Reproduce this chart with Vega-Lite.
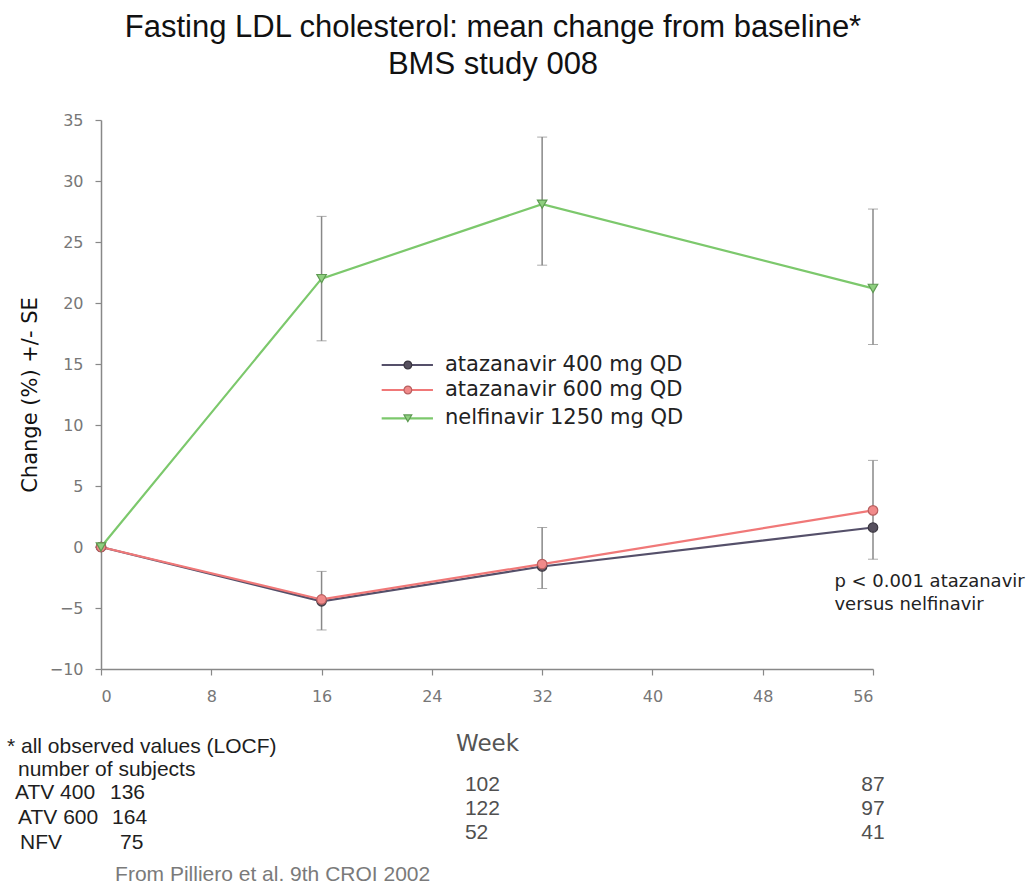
{
  "$schema": "https://vega.github.io/schema/vega-lite/v6.json",
  "autosize": {"type": "none"},
  "width": 772,
  "height": 549,
  "padding": {"left": 101, "top": 120, "right": 159, "bottom": 217},
  "background": "white",
  "config": {"view": {"stroke": null}, "font": "Liberation Sans"},
  "title": {
    "text": ["Fasting LDL cholesterol: mean change from baseline*", "BMS study 008"],
    "fontSize": 31, "fontWeight": "normal", "color": "#111", "lineHeight": 37,
    "baseline": "alphabetic", "frame": "group", "dx": 6,
    "offset": 7, "anchor": "middle", "font": "Liberation Sans"
  },
  "datasets": {
    "series": [
      {"series": "ATV400", "week": 0, "value": 0},
      {"series": "ATV400", "week": 16, "value": -4.45},
      {"series": "ATV400", "week": 32, "value": -1.6},
      {"series": "ATV400", "week": 56, "value": 1.6},
      {"series": "ATV600", "week": 0, "value": 0},
      {"series": "ATV600", "week": 16, "value": -4.3},
      {"series": "ATV600", "week": 32, "value": -1.4},
      {"series": "ATV600", "week": 56, "value": 3.0},
      {"series": "NFV", "week": 0, "value": 0},
      {"series": "NFV", "week": 16, "value": 22.0},
      {"series": "NFV", "week": 32, "value": 28.1},
      {"series": "NFV", "week": 56, "value": 21.2}
    ],
    "errors": [
      {"week": 16, "lo": 16.9, "hi": 27.1},
      {"week": 32, "lo": 23.1, "hi": 33.6},
      {"week": 56, "lo": 16.6, "hi": 27.7},
      {"week": 16, "lo": -6.8, "hi": -2.0},
      {"week": 32, "lo": -3.4, "hi": 1.6},
      {"week": 56, "lo": -1.0, "hi": 7.1}
    ],
    "legend": [
      {"series": "ATV400", "label": "atazanavir 400 mg QD", "week": 20.36, "week2": 24.08, "mid": 22.26, "text": 24.95, "value": 14.92},
      {"series": "ATV600", "label": "atazanavir 600 mg QD", "week": 20.36, "week2": 24.08, "mid": 22.26, "text": 24.95, "value": 12.87},
      {"series": "NFV", "label": "nelfinavir 1250 mg QD", "week": 20.36, "week2": 24.08, "mid": 22.26, "text": 24.95, "value": 10.55}
    ],
    "notes": [
      {"label": "* all observed values (LOCF)", "week": -6.82, "value": -16.4, "kind": "left"},
      {"label": "number of subjects", "week": -6.02, "value": -18.25, "kind": "left"},
      {"label": "ATV 400", "week": -6.24, "value": -20.2, "kind": "left"},
      {"label": "136", "week": 0.65, "value": -20.2, "kind": "left"},
      {"label": "ATV 600", "week": -6.02, "value": -22.2, "kind": "left"},
      {"label": "164", "week": 0.8, "value": -22.2, "kind": "left"},
      {"label": "NFV", "week": -5.87, "value": -24.3, "kind": "left"},
      {"label": "75", "week": 1.38, "value": -24.3, "kind": "left"},
      {"label": "From Pilliero et al. 9th CROI 2002", "week": 1.02, "value": -26.9, "kind": "source"},
      {"label": "102", "week": 26.4, "value": -19.5, "kind": "count"},
      {"label": "122", "week": 26.4, "value": -21.5, "kind": "count"},
      {"label": "52", "week": 26.4, "value": -23.45, "kind": "count"},
      {"label": "87", "week": 56.0, "value": -19.5, "kind": "countc"},
      {"label": "97", "week": 56.0, "value": -21.5, "kind": "countc"},
      {"label": "41", "week": 56.0, "value": -23.45, "kind": "countc"},
      {"label": "p < 0.001 atazanavir", "week": 53.2, "value": -2.87, "kind": "p"},
      {"label": "versus nelfinavir", "week": 53.2, "value": -4.75, "kind": "p"}
    ]
  },
  "encoding": {
    "x": {
      "field": "week", "type": "quantitative",
      "scale": {"domain": [0, 56], "nice": false, "zero": false},
      "axis": {
        "values": [0, 8, 16, 24, 32, 40, 48, 56], "grid": false,
        "title": "Week", "titleFontSize": 23, "titleFontWeight": "normal", "titleColor": "#555",
        "titlePadding": 28, "labelFontSize": 16, "labelColor": "#777", "labelPadding": 13,
        "tickSize": 6, "tickColor": "#888", "domainColor": "#888", "domainWidth": 1.5, "tickWidth": 1.2,
        "labelFont": "DejaVu Sans", "titleFont": "DejaVu Sans"
      }
    },
    "y": {
      "field": "value", "type": "quantitative",
      "scale": {"domain": [-10, 35], "nice": false, "zero": false},
      "axis": {
        "values": [-10, -5, 0, 5, 10, 15, 20, 25, 30, 35], "grid": false,
        "title": "Change (%) +/- SE", "titleFontSize": 21, "titleFontWeight": "normal", "titleColor": "#111",
        "titlePadding": 9, "labelFontSize": 16, "labelColor": "#777", "labelPadding": 12,
        "tickSize": 6, "tickColor": "#888", "domainColor": "#888", "domainWidth": 1.5, "tickWidth": 1.2,
        "labelFont": "DejaVu Sans", "titleFont": "DejaVu Sans"
      }
    }
  },
  "layer": [
    {
      "data": {"name": "errors"},
      "mark": {"type": "errorbar", "ticks": {"size": 10, "color": "#888", "strokeWidth": 1.5}, "rule": {"color": "#888", "strokeWidth": 1.5}},
      "encoding": {
        "y": {"field": "lo", "type": "quantitative"},
        "y2": {"field": "hi"}
      }
    },
    {
      "data": {"name": "series"},
      "mark": {"type": "line", "strokeWidth": 2.2},
      "encoding": {
        "detail": {"field": "series"},
        "color": {"field": "series", "type": "nominal", "legend": null,
          "scale": {"domain": ["ATV400", "ATV600", "NFV"], "range": ["#55506a", "#f07878", "#7cc86c"]}}
      }
    },
    {
      "data": {"name": "series"},
      "mark": {"type": "point", "filled": true, "size": 90, "strokeWidth": 1.2, "opacity": 1},
      "encoding": {
        "fill": {"field": "series", "type": "nominal", "legend": null,
          "scale": {"domain": ["ATV400", "ATV600", "NFV"], "range": ["#56505e", "#f08a8a", "#8fcf80"]}},
        "stroke": {"field": "series", "type": "nominal", "legend": null,
          "scale": {"domain": ["ATV400", "ATV600", "NFV"], "range": ["#3a3640", "#b86060", "#5e9a52"]}},
        "shape": {"field": "series", "type": "nominal", "legend": null,
          "scale": {"domain": ["ATV400", "ATV600", "NFV"], "range": ["circle", "circle", "triangle-down"]}}
      }
    },
    {
      "data": {"name": "legend"},
      "mark": {"type": "rule", "strokeWidth": 2.2},
      "encoding": {
        "x2": {"field": "week2"},
        "color": {"field": "series", "type": "nominal", "legend": null}
      }
    },
    {
      "data": {"name": "legend"},
      "mark": {"type": "point", "filled": true, "size": 60, "strokeWidth": 1.2, "opacity": 1},
      "encoding": {
        "x": {"field": "mid", "type": "quantitative"},
        "fill": {"field": "series", "type": "nominal", "legend": null},
        "stroke": {"field": "series", "type": "nominal", "legend": null},
        "shape": {"field": "series", "type": "nominal", "legend": null}
      }
    },
    {
      "data": {"name": "legend"},
      "mark": {"type": "text", "align": "left", "baseline": "middle", "fontSize": 21, "color": "#222", "font": "DejaVu Sans"},
      "encoding": {
        "x": {"field": "text", "type": "quantitative"},
        "text": {"field": "label"}
      }
    },
    {
      "data": {"name": "notes"},
      "transform": [{"filter": "datum.kind === 'left'"}],
      "mark": {"type": "text", "align": "left", "baseline": "middle", "fontSize": 21, "font": "Liberation Sans", "color": "#1e1e1e"},
      "encoding": {"text": {"field": "label"}}
    },
    {
      "data": {"name": "notes"},
      "transform": [{"filter": "datum.kind === 'source'"}],
      "mark": {"type": "text", "align": "left", "baseline": "middle", "fontSize": 21, "font": "Liberation Sans", "color": "#7a7a7a"},
      "encoding": {"text": {"field": "label"}}
    },
    {
      "data": {"name": "notes"},
      "transform": [{"filter": "datum.kind === 'count'"}],
      "mark": {"type": "text", "align": "left", "baseline": "middle", "fontSize": 21, "font": "Liberation Sans", "color": "#505050"},
      "encoding": {"text": {"field": "label"}}
    },
    {
      "data": {"name": "notes"},
      "transform": [{"filter": "datum.kind === 'countc'"}],
      "mark": {"type": "text", "align": "center", "baseline": "middle", "fontSize": 21, "font": "Liberation Sans", "color": "#505050"},
      "encoding": {"text": {"field": "label"}}
    },
    {
      "data": {"name": "notes"},
      "transform": [{"filter": "datum.kind === 'p'"}],
      "mark": {"type": "text", "align": "left", "baseline": "middle", "fontSize": 18, "font": "DejaVu Sans", "color": "#222"},
      "encoding": {"text": {"field": "label"}}
    }
  ]
}
